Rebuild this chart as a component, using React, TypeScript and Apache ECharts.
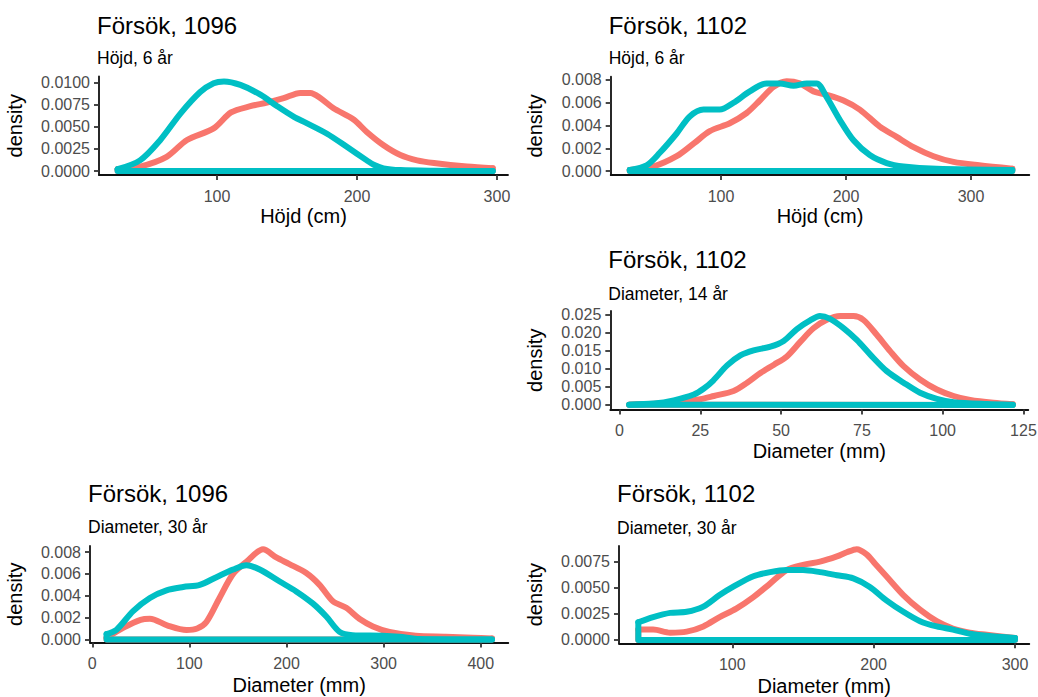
import React, { useEffect, useRef } from "react";
import * as echarts from "echarts";

const RED = "#F8766D";
const TEAL = "#00BFC4";
const FONT = "'Liberation Sans', Arial, sans-serif";

type Pt = [number, number];

// Panel 1 – Försök 1096, Höjd 6 år
const p1Red: Pt[] = [[29, 0.0002], [45, 0.0005], [64, 0.0016], [78.6, 0.0035], [97.6, 0.0048], [110, 0.0066], [123.8, 0.0073], [135.7, 0.0077], [147.6, 0.0082], [159.5, 0.0088], [166.7, 0.0088], [174, 0.0082], [183, 0.0071], [197.6, 0.0058], [207, 0.0044], [219, 0.0029], [231, 0.0018], [243, 0.0012], [255, 0.0009], [278.6, 0.0005], [297, 0.0003]];
const p1Teal: Pt[] = [[29, 0.0002], [45, 0.0012], [59.5, 0.0035], [74, 0.0065], [88, 0.0089], [97.6, 0.0099], [105, 0.0101], [116.7, 0.0097], [131, 0.0086], [143, 0.0073], [155, 0.0061], [164, 0.0054], [178.6, 0.0042], [193, 0.0027], [207, 0.0012], [212, 0.0007], [219, 0.0003], [231, 0.0001], [255, 0.00003], [297, 0.0]];
const p1XTicks = [100, 200, 300];
const p1YTicks = [0, 0.0025, 0.005, 0.0075, 0.01];

// Panel 2 – Försök 1102, Höjd 6 år
const p2Red: Pt[] = [[27, 0.0001], [46, 0.0004], [64.5, 0.0013], [78, 0.0024], [91, 0.0035], [107, 0.0042], [120.5, 0.0051], [131, 0.0062], [142, 0.0074], [152.5, 0.0079], [163, 0.0077], [174, 0.007], [184.5, 0.0067], [198, 0.0062], [211, 0.0054], [227, 0.0039], [240.5, 0.003], [254, 0.0021], [270, 0.0013], [286, 0.0008], [306.5, 0.0005], [333, 0.0002]];
const p2Teal: Pt[] = [[27, 0.0001], [40.5, 0.0005], [51, 0.0016], [64.5, 0.0033], [75, 0.0048], [86, 0.0054], [99, 0.0054], [110, 0.006], [123, 0.007], [136.5, 0.0077], [147, 0.0077], [158, 0.0075], [168.5, 0.0077], [176.5, 0.0077], [184.5, 0.0065], [195, 0.0045], [206, 0.0027], [219, 0.0014], [232.5, 0.0007], [246, 0.0004], [272.5, 0.0002], [333, 0.0001]];
const p2XTicks = [100, 200, 300];
const p2YTicks = [0, 0.002, 0.004, 0.006, 0.008];

// Panel 3 – Försök 1102, Diameter 14 år
const p3Red: Pt[] = [[3, 0.0001], [15.8, 0.0006], [25, 0.0016], [29.2, 0.0025], [35.3, 0.0039], [39.5, 0.0062], [43.6, 0.0089], [47.8, 0.0112], [51.8, 0.0135], [56, 0.0176], [60, 0.0213], [64, 0.0236], [68.3, 0.0247], [72.4, 0.0247], [75.5, 0.0236], [79.6, 0.0195], [83.8, 0.0149], [87.9, 0.0108], [93, 0.0071], [98.2, 0.0043], [103.4, 0.0025], [108.5, 0.0014], [115.7, 0.0006], [121.7, 0.0002]];
const p3Teal: Pt[] = [[3, 0.0001], [10.6, 0.0004], [16.8, 0.0013], [23, 0.0029], [26, 0.0045], [29, 0.0068], [33.3, 0.011], [37.4, 0.0138], [41.5, 0.0152], [46.7, 0.0162], [50.8, 0.0178], [54.9, 0.0211], [59, 0.0235], [62, 0.0247], [65, 0.024], [69.4, 0.0213], [73.5, 0.018], [77.6, 0.014], [82.7, 0.0094], [87.9, 0.0062], [93, 0.0034], [98.2, 0.0017], [103.4, 0.0008], [113.7, 0.0003], [121.7, 0.0001]];
const p3XTicks = [0, 25, 50, 75, 100, 125];
const p3YTicks = [0, 0.005, 0.01, 0.015, 0.02, 0.025];

// Panel 4 – Försök 1096, Diameter 30 år
const p4Red: Pt[] = [[14.7, 0.00015], [32.6, 0.0011], [49.7, 0.0018], [59.3, 0.0019], [77, 0.0013], [97, 0.00087], [108, 0.001], [117.5, 0.0016], [131, 0.0038], [145, 0.006], [158.7, 0.0071], [175.8, 0.00825], [189.5, 0.0075], [203, 0.0069], [220, 0.0061], [234, 0.005], [247.8, 0.0035], [261.5, 0.0029], [275, 0.0019], [289, 0.0012], [306, 0.0007], [333, 0.00035], [364, 0.00026], [391.7, 0.00017], [411.6, 0.0001]];
const p4Teal: Pt[] = [[14.7, 0.0005], [25, 0.0009], [42, 0.0026], [59.3, 0.0038], [76.4, 0.0045], [93.6, 0.0048], [110.7, 0.005], [127.8, 0.0057], [145, 0.0064], [158.7, 0.0068], [172.4, 0.0064], [193, 0.0053], [210, 0.0044], [227, 0.0033], [241, 0.0021], [254.6, 0.0007], [268, 0.0004], [299, 0.00035], [316, 0.00026], [337, 0.00005], [411.6, 0.0]];
const p4XTicks = [0, 100, 200, 300, 400];
const p4YTicks = [0, 0.002, 0.004, 0.006, 0.008];

// Panel 5 – Försök 1102, Diameter 30 år
const p5Red: Pt[] = [[33.5, 0.001], [44, 0.001], [56, 0.0007], [67.7, 0.0008], [79.5, 0.0013], [91, 0.0022], [102.8, 0.003], [114.9, 0.0041], [126.7, 0.0054], [138.4, 0.0067], [150, 0.0072], [162, 0.0075], [174, 0.008], [181, 0.0084], [188, 0.0087], [195, 0.0082], [201, 0.0073], [209, 0.0061], [221, 0.0043], [232.8, 0.0029], [244.6, 0.0018], [256, 0.0011], [268, 0.0007], [280, 0.0005], [300, 0.0002]];
const p5Teal: Pt[] = [[33.5, 0.0017], [44, 0.0022], [56, 0.0026], [67.7, 0.0027], [79.5, 0.0032], [91, 0.0043], [100.7, 0.0051], [114.9, 0.0061], [126.7, 0.0065], [138.4, 0.0067], [150, 0.0067], [162, 0.0065], [174, 0.0062], [185.6, 0.0059], [197, 0.0051], [209, 0.0038], [221, 0.0027], [232.8, 0.0018], [244.6, 0.0013], [256, 0.001], [268, 0.0006], [280, 0.0004], [300, 0.0002]];
const p5XTicks = [100, 200, 300];
const p5YTicks = [0, 0.0025, 0.005, 0.0075];

const panels = [
  { title: "Försök, 1096", subtitle: "Höjd, 6 år", xTitle: "Höjd (cm)", red: p1Red, teal: p1Teal, xTicks: p1XTicks, yTicks: p1YTicks, dec: 4,
    left: 99, right: 508, top: 76.5, bottom: 175, xMin: 15.7, xMax: 307.9, yMin: -0.00045, yMax: 0.01065, titleB: 34, subB: 64, xTitleB: 222.5, yTitleX: 15 },
  { title: "Försök, 1102", subtitle: "Höjd, 6 år", xTitle: "Höjd (cm)", red: p2Red, teal: p2Teal, xTicks: p2XTicks, yTicks: p2YTicks, dec: 3,
    left: 610.7, right: 1029.3, top: 76.7, bottom: 175, xMin: 11.76, xMax: 346.6, yMin: -0.00035, yMax: 0.00829, titleB: 33.5, subB: 64.5, xTitleB: 222.5, yTitleX: 535 },
  { title: "Försök, 1102", subtitle: "Diameter, 14 år", xTitle: "Diameter (mm)", red: p3Red, teal: p3Teal, xTicks: p3XTicks, yTicks: p3YTicks, dec: 3,
    left: 610.3, right: 1028.3, top: 311, bottom: 409.5, xMin: -2.85, xMax: 126.5, yMin: -0.00125, yMax: 0.02611, titleB: 268.3, subB: 300, xTitleB: 457.5, yTitleX: 535 },
  { title: "Försök, 1096", subtitle: "Diameter, 30 år", xTitle: "Diameter (mm)", red: p4Red, teal: p4Teal, xTicks: p4XTicks, yTicks: p4YTicks, dec: 3,
    left: 90, right: 508.3, top: 546, bottom: 642.5, xMin: -2.37, xMax: 428.4, yMin: -0.000274, yMax: 0.00855, titleB: 501.7, subB: 533.3, xTitleB: 692, yTitleX: 15 },
  { title: "Försök, 1102", subtitle: "Diameter, 30 år", xTitle: "Diameter (mm)", red: p5Red, teal: p5Teal, xTicks: p5XTicks, yTicks: p5YTicks, dec: 4,
    left: 619, right: 1029.3, top: 546, bottom: 643.3, xMin: 19.84, xMax: 310.1, yMin: -0.000316, yMax: 0.009, titleB: 502.3, subB: 534, xTitleB: 692.5, yTitleX: 535 },
];

const CENTRAL = 0.3465;

function buildOption() {
  const grid: any[] = [];
  const xAxis: any[] = [];
  const yAxis: any[] = [];
  const series: any[] = [];
  const graphic: any[] = [];

  panels.forEach((p, i) => {
    grid.push({ left: p.left, top: p.top, width: p.right - p.left, height: p.bottom - p.top, containLabel: false, outerBoundsMode: "none" });
    const axisLine = { show: true, onZero: false, lineStyle: { color: "#111", width: 1.8 } };
    const axisTickBase = { show: true, length: 5, lineStyle: { color: "#333", width: 1.8 } };
    const labelBase = { color: "#4D4D4D", fontSize: 16, lineHeight: 16, fontFamily: FONT };
    xAxis.push({
      type: "value", gridIndex: i, min: p.xMin, max: p.xMax,
      axisLine, splitLine: { show: false },
      axisTick: { ...axisTickBase, customValues: p.xTicks },
      axisLabel: { ...labelBase, margin: 13, customValues: p.xTicks, formatter: (v: number) => String(v) },
    });
    yAxis.push({
      type: "value", gridIndex: i, min: p.yMin, max: p.yMax,
      axisLine, splitLine: { show: false },
      axisTick: { ...axisTickBase, customValues: p.yTicks },
      axisLabel: { ...labelBase, margin: 9, customValues: p.yTicks, formatter: (v: number) => v.toFixed(p.dec) },
    });

    const groups: [Pt[], string][] = [[p.red, RED], [p.teal, TEAL]];
    groups.forEach(([curve, color]) => {
      const first = curve[0];
      const last = curve[curve.length - 1];
      const lineStyle = { color, width: 6, cap: "round", join: "round" };
      series.push({
        type: "line", xAxisIndex: i, yAxisIndex: i, data: curve, smooth: 0.3,
        symbol: "none", silent: true, lineStyle,
      });
      series.push({
        type: "line", xAxisIndex: i, yAxisIndex: i,
        data: [[first[0], first[1]], [first[0], 0], [last[0], 0], [last[0], last[1]]],
        smooth: false, symbol: "none", silent: true, lineStyle,
      });
    });

    graphic.push({
      type: "text", x: p.left - 2, y: p.titleB - CENTRAL * 24, silent: true,
      style: { text: p.title, font: `24px ${FONT}`, fill: "#000", align: "left", verticalAlign: "middle" },
    });
    graphic.push({
      type: "text", x: p.left - 2, y: p.subB - CENTRAL * 17.5, silent: true,
      style: { text: p.subtitle, font: `17.5px ${FONT}`, fill: "#000", align: "left", verticalAlign: "middle" },
    });
    graphic.push({
      type: "text", x: (p.left + p.right) / 2, y: p.xTitleB - CENTRAL * 20, silent: true,
      style: { text: p.xTitle, font: `20px ${FONT}`, fill: "#000", align: "center", verticalAlign: "middle" },
    });
    graphic.push({
      type: "text", x: p.yTitleX, y: (p.top + p.bottom) / 2, rotation: Math.PI / 2, silent: true,
      style: { text: "density", font: `20px ${FONT}`, fill: "#000", align: "center", verticalAlign: "middle" },
    });
  });

  return { animation: false, backgroundColor: "#fff", grid, xAxis, yAxis, series, graphic };
}

export default function App() {
  const ref = useRef<HTMLDivElement>(null);
  useEffect(() => {
    if (!ref.current) return;
    const chart = echarts.init(ref.current, undefined, { renderer: "svg" });
    chart.setOption(buildOption() as any);
    return () => chart.dispose();
  }, []);
  return (
    <div
      ref={ref}
      style={{ position: "absolute", left: 0, top: 0, width: 1038, height: 697, background: "#fff" }}
    />
  );
}
